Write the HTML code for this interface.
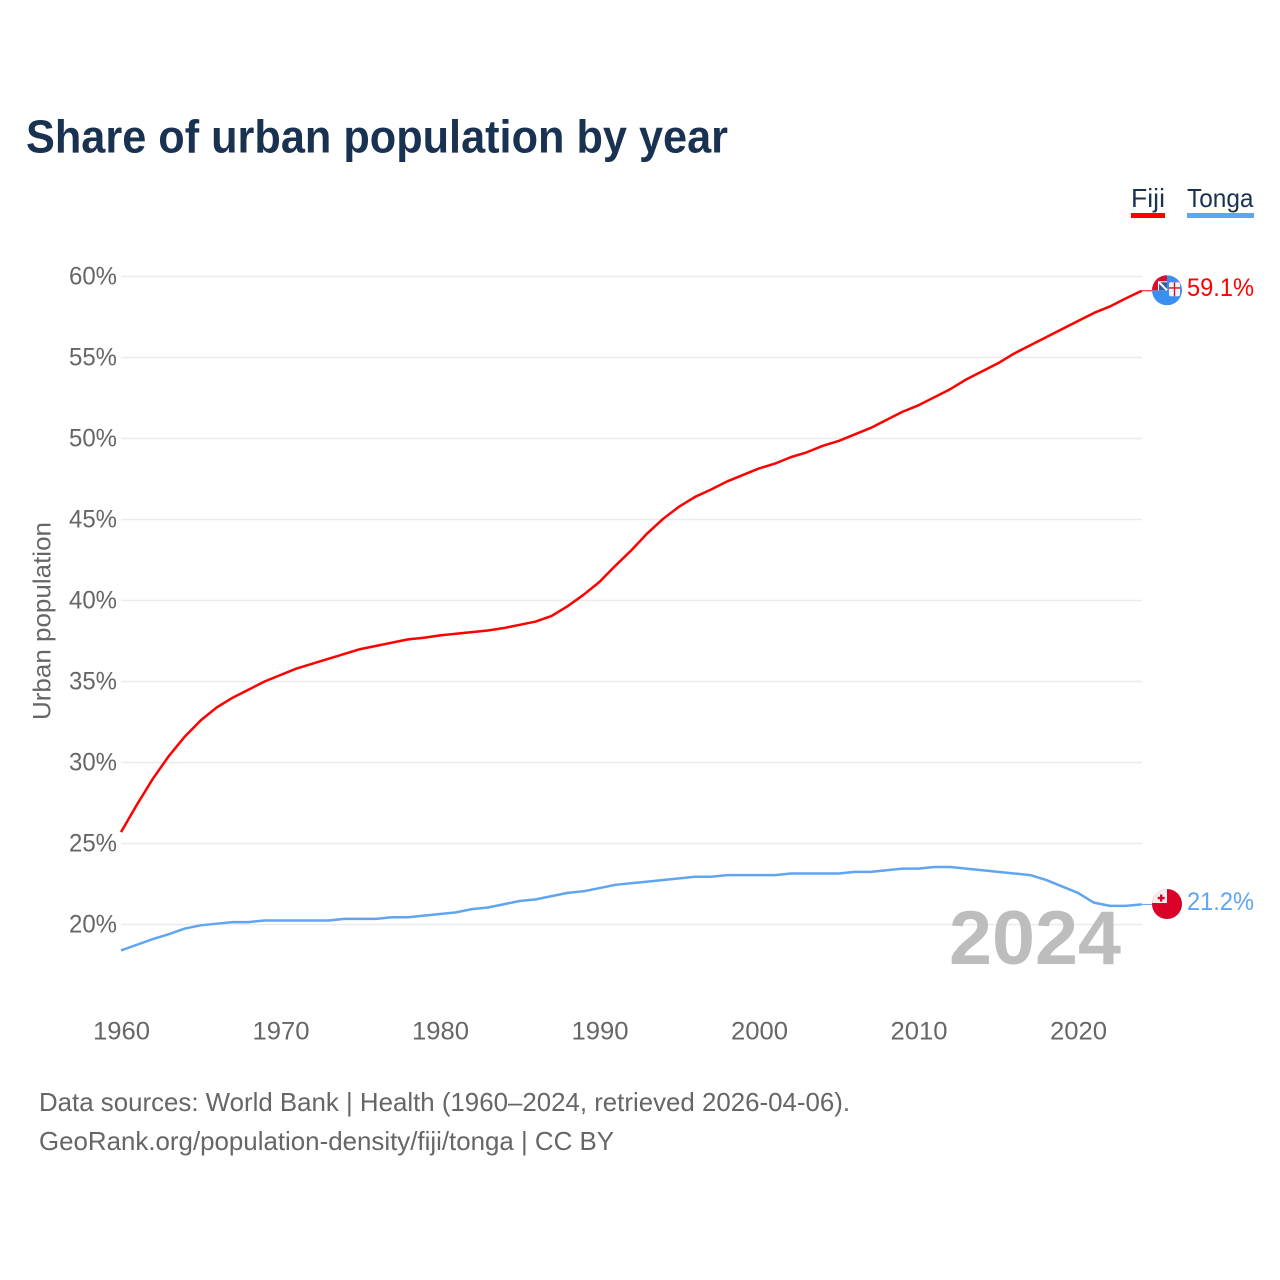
<!DOCTYPE html>
<html lang="en">
<head>
<meta charset="utf-8">
<title>Share of urban population by year</title>
<style>
html,body{margin:0;padding:0;background:#fff;width:1280px;height:1280px;overflow:hidden}
svg{display:block;font-family:"Liberation Sans",sans-serif}
</style>
</head>
<body>
<svg id="chart" width="1280" height="1280" viewBox="0 0 1280 1280" xmlns="http://www.w3.org/2000/svg">
  <defs>
    <clipPath id="clip-fiji"><circle cx="0" cy="0" r="15"></circle></clipPath>
    <clipPath id="clip-tonga"><circle cx="0" cy="0" r="15"></circle></clipPath>
  </defs>
  <text x="26" y="152.5" font-size="46" font-weight="700" fill="#1a3252" textLength="702" lengthAdjust="spacingAndGlyphs">Share of urban population by year</text>

  <text x="1131" y="207" font-size="26" fill="#1a3252" textLength="34" lengthAdjust="spacingAndGlyphs">Fiji</text>
  <rect x="1131" y="213" width="34" height="5" fill="#ff0000"></rect>
  <text x="1187" y="207" font-size="26" fill="#1a3252" textLength="66.5" lengthAdjust="spacingAndGlyphs">Tonga</text>
  <rect x="1187" y="213" width="67" height="5" fill="#60a5f0"></rect>

  <g id="grid"></g>
  <g id="y-ticks"></g>
  <g id="x-ticks"></g>

  <text transform="translate(50.5,621) rotate(-90)" text-anchor="middle" font-size="25" fill="#666666" textLength="198" lengthAdjust="spacingAndGlyphs">Urban population</text>

  <text x="949" y="964" font-size="76" font-weight="700" fill="#bdbdbd" textLength="172" lengthAdjust="spacingAndGlyphs">2024</text>

  <g id="series"></g>

  <g id="flag-tonga">
    <g clip-path="url(#clip-tonga)">
      <rect x="-15" y="-15" width="30" height="30" fill="#d9002a"></rect>
      <rect x="-15" y="-15" width="15" height="14" fill="#f1eeee"></rect>
      <rect x="-7" y="-9.5" width="2.4" height="7" fill="#d9002a"></rect>
      <rect x="-9.3" y="-7.2" width="7" height="2.4" fill="#d9002a"></rect>
    </g>
  </g>
  <g id="flag-fiji">
    <g clip-path="url(#clip-fiji)">
      <rect x="-15" y="-15" width="30" height="30" fill="#3a8ff0"></rect>
      <rect x="-15" y="-15" width="15" height="15" fill="#ffffff"></rect>
      <rect x="-15" y="-15" width="15" height="6" fill="#d8102c"></rect>
      <rect x="-15" y="-15" width="6" height="15" fill="#d8102c"></rect>
      <rect x="-8" y="-8" width="8" height="8" fill="#3a5a9a"></rect>
      <path d="M-8-8 L0 0" stroke="#ffffff" stroke-width="2"></path>
      <rect x="2" y="-8" width="11" height="14" rx="2" fill="#f6f2f2"></rect>
      <rect x="6.8" y="-8" width="1.4" height="14" fill="#d8102c"></rect>
      <rect x="2" y="-3" width="11" height="1.4" fill="#d8102c"></rect>
    </g>
  </g>

  <text id="label-fiji" x="1187" y="296" font-size="25" fill="#ff0000" textLength="67" lengthAdjust="spacingAndGlyphs"></text>
  <text id="label-tonga" x="1187" y="910" font-size="25" fill="#60a5f0" textLength="67" lengthAdjust="spacingAndGlyphs"></text>

  <text x="39" y="1111" font-size="26" fill="#666666" textLength="811" lengthAdjust="spacingAndGlyphs">Data sources: World Bank | Health (1960–2024, retrieved 2026-04-06).</text>
  <a><text x="39" y="1150" font-size="26" fill="#666666" textLength="575" lengthAdjust="spacingAndGlyphs">GeoRank.org/population-density/fiji/tonga | CC BY</text></a>
</svg>
<script>
const startYear = 1960;
const yTickValues = [20, 25, 30, 35, 40, 45, 50, 55, 60];
const xTickValues = [1960, 1970, 1980, 1990, 2000, 2010, 2020];
const fijiValues = [25.7,27.4,29.0,30.4,31.6,32.6,33.4,34.0,34.5,35.0,35.4,35.8,36.1,36.4,36.7,37.0,37.2,37.4,37.6,37.7,37.85,37.95,38.05,38.15,38.3,38.5,38.7,39.05,39.65,40.35,41.15,42.15,43.1,44.15,45.05,45.8,46.4,46.85,47.35,47.75,48.15,48.45,48.85,49.15,49.55,49.85,50.25,50.65,51.15,51.65,52.05,52.55,53.05,53.65,54.15,54.65,55.25,55.75,56.25,56.75,57.25,57.75,58.15,58.65,59.12];
const tongaValues = [18.4,18.75,19.1,19.4,19.75,19.95,20.05,20.15,20.15,20.25,20.25,20.25,20.25,20.25,20.35,20.35,20.35,20.45,20.45,20.55,20.65,20.75,20.95,21.05,21.25,21.45,21.55,21.75,21.95,22.05,22.25,22.45,22.55,22.65,22.75,22.85,22.95,22.95,23.05,23.05,23.05,23.05,23.15,23.15,23.15,23.15,23.25,23.25,23.35,23.45,23.45,23.55,23.55,23.45,23.35,23.25,23.15,23.05,22.75,22.35,21.95,21.35,21.15,21.15,21.24];

const NS = 'http://www.w3.org/2000/svg';
const xScale = function (year) { return 121 + (year - 1960) * 15.95; };
const yScale = function (v) { return 924.5 - (v - 20) * 16.2; };
const make = function (tag, attrs, text) {
  const el = document.createElementNS(NS, tag);
  Object.keys(attrs).forEach(function (k) { el.setAttribute(k, attrs[k]); });
  if (text !== undefined) el.textContent = text;
  return el;
};

const grid = document.getElementById('grid');
const yTicks = document.getElementById('y-ticks');
yTickValues.forEach(function (v) {
  const line = make('line', { x1: 121, x2: 1142, y1: yScale(v), y2: yScale(v), stroke: '#ebebeb', 'stroke-width': 1.5 });
  
  
  grid.appendChild(line);
  const label = make('text', { x: 117, y: yScale(v) + 8, 'text-anchor': 'end', 'font-size': 25, fill: '#666666', textLength: 48, lengthAdjust: 'spacingAndGlyphs' }, v + '%');
  
  
  yTicks.appendChild(label);
});

const xTicks = document.getElementById('x-ticks');
xTickValues.forEach(function (year) {
  const label = make('text', { x: xScale(year) + 0.5, y: 1039.5, 'text-anchor': 'middle', 'font-size': 25, fill: '#666666', textLength: 57, lengthAdjust: 'spacingAndGlyphs' }, String(year));
  
  
  xTicks.appendChild(label);
});

const seriesGroup = document.getElementById('series');
const pathFor = function (values) {
  return values.map(function (v, i) {
    return (i === 0 ? 'M' : 'L') + xScale(startYear + i).toFixed(2) + ' ' + yScale(v).toFixed(2);
  }).join(' ');
};
const lastOf = function (values) { return values[values.length - 1]; };
const lastX = xScale(startYear + fijiValues.length - 1);

const tongaLine = make('path', { d: pathFor(tongaValues), fill: 'none', stroke: '#60a5f0', 'stroke-width': 2.5, 'stroke-linejoin': 'round' });


seriesGroup.appendChild(tongaLine);

const fijiLine = make('path', { d: pathFor(fijiValues), fill: 'none', stroke: '#ff0000', 'stroke-width': 2.5, 'stroke-linejoin': 'round' });


seriesGroup.appendChild(fijiLine);

const tongaLead = make('line', { x1: lastX, x2: 1153, y1: yScale(lastOf(tongaValues)), y2: yScale(lastOf(tongaValues)), stroke: '#60a5f0', 'stroke-width': 1 });


seriesGroup.appendChild(tongaLead);

const fijiLead = make('line', { x1: lastX, x2: 1153, y1: yScale(lastOf(fijiValues)), y2: yScale(lastOf(fijiValues)), stroke: '#ff0000', 'stroke-width': 1 });


seriesGroup.appendChild(fijiLead);

document.getElementById('flag-fiji').setAttribute('transform', 'translate(1167,' + (yScale(lastOf(fijiValues)) - 0.5) + ')');
document.getElementById('flag-tonga').setAttribute('transform', 'translate(1167,' + (yScale(lastOf(tongaValues)) - 0.4) + ')');

const fijiLabel = document.getElementById('label-fiji');
fijiLabel.textContent = lastOf(fijiValues).toFixed(1) + '%';
fijiLabel.setAttribute('y', yScale(lastOf(fijiValues)) + 5);
const tongaLabel = document.getElementById('label-tonga');
tongaLabel.textContent = lastOf(tongaValues).toFixed(1) + '%';
tongaLabel.setAttribute('y', yScale(lastOf(tongaValues)) + 5.5);
</script>
</body>
</html>
